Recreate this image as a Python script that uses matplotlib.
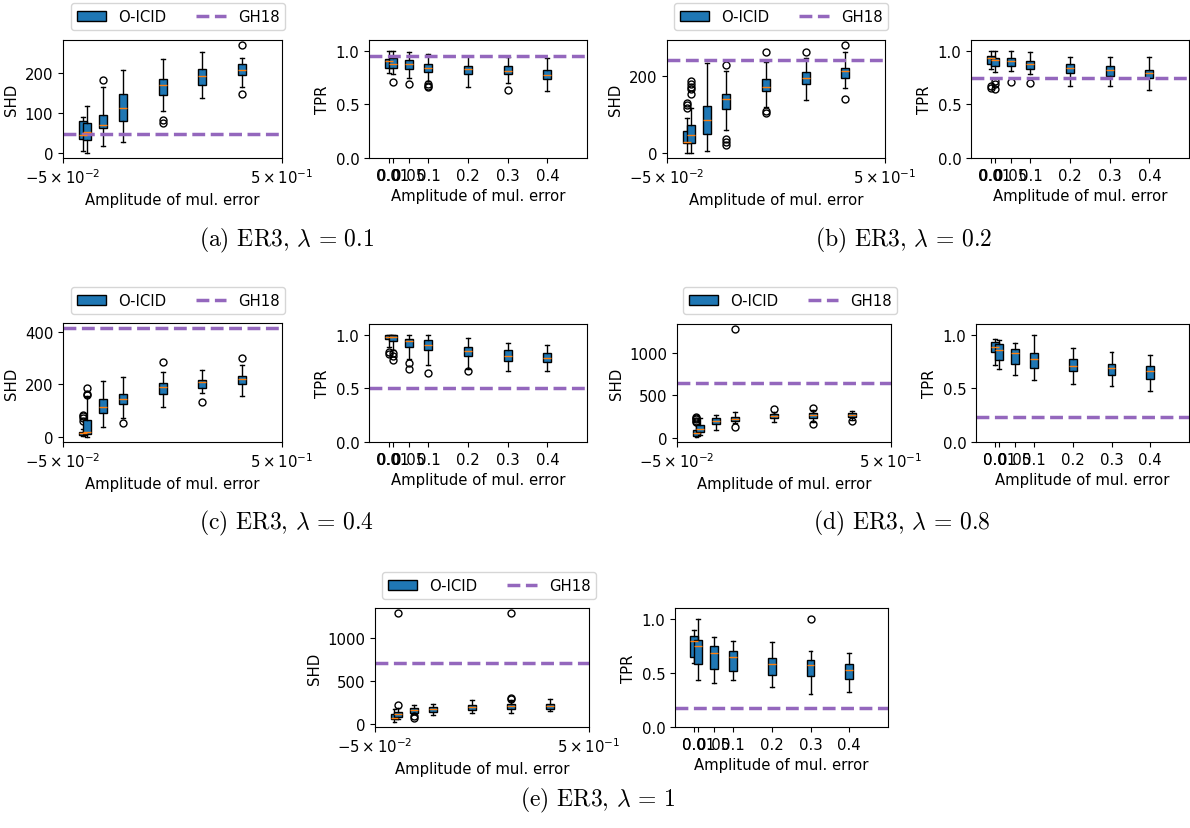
import numpy as np
import matplotlib
matplotlib.use("Agg")
import matplotlib.pyplot as plt
from matplotlib.lines import Line2D

# amplitude of the multiplicative error (box positions), labels as str(pos)
positions = [0.0, 0.01, 0.05, 0.1, 0.2, 0.3, 0.4]
tick_labels = [str(p) for p in positions]

# each row: whisker low, q1, median, q3, whisker high
shd_a = [[4, 35, 43, 79, 90], [0, 32, 52, 75, 117], [17, 62, 70, 95, 164],
         [27, 78, 112, 146, 207], [103, 144, 168, 185, 233],
         [136, 168, 191, 210, 252], [165, 193, 207, 221, 237]]
shd_a_fliers = [[], [], [182], [], [82, 75], [], [268, 147]]
tpr_a = [[0.79, 0.835, 0.90, 0.92, 1.0], [0.78, 0.835, 0.88, 0.93, 1.0],
         [0.75, 0.83, 0.873, 0.915, 0.99], [0.72, 0.80, 0.84, 0.875, 0.97],
         [0.66, 0.78, 0.83, 0.855, 0.955], [0.695, 0.78, 0.807, 0.855, 0.94],
         [0.627, 0.736, 0.776, 0.82, 0.93]]
tpr_a_fliers = [[], [0.705], [0.69], [0.69, 0.675, 0.66], [], [0.635], []]
gh18_a = [47, 0.953]

shd_b = [[0, 24, 28, 57, 91], [0, 24, 45, 72, 117], [4, 48, 85, 123, 235],
         [58, 113, 139, 154, 213], [120, 161, 172, 191, 237],
         [137, 178, 194, 210, 248], [168, 194, 213, 222, 263]]
shd_b_fliers = [[129, 124, 117], [187, 180, 172, 165, 154], [],
                [230, 35, 28, 21], [263, 109, 104], [263], [280, 141]]
tpr_b = [[0.83, 0.876, 0.93, 0.947, 1.0], [0.80, 0.86, 0.916, 0.93, 1.0],
         [0.81, 0.86, 0.90, 0.935, 1.0], [0.78, 0.83, 0.876, 0.907, 0.985],
         [0.674, 0.79, 0.835, 0.88, 0.944], [0.668, 0.767, 0.823, 0.854, 0.944],
         [0.634, 0.745, 0.79, 0.823, 0.944]]
tpr_b_fliers = [[0.668, 0.65], [0.72, 0.69, 0.643], [0.705], [0.695], [], [], []]
gh18_b = [243, 0.748]

shd_c = [[3, 6, 13, 17, 30], [0, 9, 19, 64, 154], [35, 90, 115, 145, 214],
         [73, 126, 144, 164, 228], [114, 164, 190, 205, 247],
         [167, 186, 208, 218, 256], [156, 201, 220, 233, 273]]
shd_c_fliers = [[83, 78, 72, 60], [186, 163, 158], [], [51], [286], [132], [299]]
tpr_c = [[0.89, 0.957, 0.98, 0.994, 1.0], [0.86, 0.94, 0.978, 0.994, 1.0],
         [0.776, 0.885, 0.938, 0.963, 1.0], [0.72, 0.854, 0.90, 0.947, 0.994],
         [0.683, 0.80, 0.848, 0.885, 0.97], [0.658, 0.758, 0.80, 0.86, 0.922],
         [0.658, 0.745, 0.786, 0.83, 0.907]]
tpr_c_fliers = [[0.84, 0.82], [0.83, 0.80, 0.767], [0.74, 0.683], [0.643],
                [0.665], [], []]
gh18_c = [414, 0.503]

shd_d = [[12, 23, 50, 90, 150], [31, 62, 100, 148, 226], [90, 156, 195, 226, 265],
         [168, 199, 222, 246, 305], [180, 226, 254, 277, 305],
         [187, 234, 262, 285, 320], [207, 238, 262, 285, 316]]
shd_d_fliers = [[246, 230, 215, 200, 180], [], [], [1273, 129], [332],
                [344, 160], [195]]
tpr_d = [[0.714, 0.84, 0.885, 0.93, 0.957], [0.677, 0.767, 0.854, 0.91, 0.947],
         [0.627, 0.73, 0.83, 0.863, 0.922], [0.575, 0.69, 0.776, 0.832, 1.0],
         [0.543, 0.658, 0.705, 0.77, 0.879], [0.52, 0.62, 0.69, 0.73, 0.838],
         [0.472, 0.59, 0.658, 0.705, 0.807]]
tpr_d_fliers = [[], [], [], [], [], [], []]
gh18_d = [637, 0.23]

shd_e = [[23, 50, 69, 108, 165], [50, 81, 108, 138, 185], [108, 127, 154, 177, 215],
         [100, 138, 173, 196, 231], [119, 154, 192, 215, 269],
         [127, 173, 208, 231, 270], [146, 165, 208, 231, 288]]
shd_e_fliers = [[], [215, 1280], [85, 70], [], [], [300, 280, 1280], []]
tpr_e = [[0.59, 0.648, 0.797, 0.84, 0.897], [0.43, 0.586, 0.748, 0.804, 1.0],
         [0.405, 0.54, 0.685, 0.748, 0.835], [0.43, 0.514, 0.648, 0.704, 0.797],
         [0.374, 0.477, 0.58, 0.638, 0.788], [0.305, 0.47, 0.57, 0.617, 0.704],
         [0.32, 0.445, 0.53, 0.586, 0.685]]
tpr_e_fliers = [[], [], [], [], [], [1.0], []]
gh18_e = [704, 0.18]

W, H = 1190, 829
FS = 10.7


def px_axes(fig, x0, y0, x1, y1):
    # axes from pixel box (top-left origin)
    return fig.add_axes([x0 / W, 1 - y1 / H, (x1 - x0) / W, (y1 - y0) / H])


def make_stats(rows, fliers):
    return [dict(whislo=r[0], q1=r[1], med=r[2], q3=r[3], whishi=r[4],
                 fliers=np.array(f)) for r, f in zip(rows, fliers)]


def draw_panel(ax, rows, fliers, gh, ylabel):
    bp = ax.bxp(make_stats(rows, fliers), positions=positions, widths=0.02,
                patch_artist=True, manage_ticks=False,
                boxprops=dict(facecolor='tab:blue'),
                medianprops=dict(color='tab:orange'),
                flierprops=dict(marker='o', markersize=5,
                                markerfacecolor='none', markeredgecolor='k'))
    ax.axhline(gh, color='tab:purple', ls='--', lw=2.5)
    ax.set_xlim(-0.05, 0.5)
    ax.set_ylabel(ylabel, fontsize=FS)
    ax.set_xlabel('Amplitude of mul. error', fontsize=FS)
    ax.tick_params(labelsize=FS)
    return bp


panels = [
    (shd_a, shd_a_fliers, tpr_a, tpr_a_fliers, gh18_a, 'a', '0.1'),
    (shd_b, shd_b_fliers, tpr_b, tpr_b_fliers, gh18_b, 'b', '0.2'),
    (shd_c, shd_c_fliers, tpr_c, tpr_c_fliers, gh18_c, 'c', '0.4'),
    (shd_d, shd_d_fliers, tpr_d, tpr_d_fliers, gh18_d, 'd', '0.8'),
    (shd_e, shd_e_fliers, tpr_e, tpr_e_fliers, gh18_e, 'e', '1'),
]

# pixel boxes: shd axes, tpr axes, legend (center x, bottom y), caption (x, y)
shd_boxes = [(63, 41, 282, 159), (667, 41, 885, 159), (63, 324, 282, 443),
             (677, 325, 891, 443), (375, 609, 589, 728)]
tpr_boxes = [(369, 41, 587, 159), (971, 41, 1189, 159), (369, 325, 587, 443),
             (976, 325, 1189, 443), (675, 609, 888, 728)]
leg_pos = [(178, 31), (781, 31), (178, 315), (790, 315), (489, 600)]
cap_pos = [(287, 240), (904, 240), (287, 523), (902, 523), (598, 800)]

fig = plt.figure(figsize=(W / 100, H / 100), dpi=100)

for i, (s, sf, t, tf, gh, letter, lam) in enumerate(panels):
    ax1 = px_axes(fig, *shd_boxes[i])
    bp = draw_panel(ax1, s, sf, gh[0], 'SHD')
    ax1.set_xticks([-0.05, 0.5])
    ax1.set_xticklabels([r'$\mathdefault{-5\times10^{-2}}$',
                         r'$\mathdefault{5\times10^{-1}}$'])

    ax2 = px_axes(fig, *tpr_boxes[i])
    draw_panel(ax2, t, tf, gh[1], 'TPR')
    ax2.set_ylim(0, 1.1)
    ax2.set_yticks([0.0, 0.5, 1.0])
    ax2.set_xticks(positions)
    ax2.set_xticklabels(tick_labels)

    gh_handle = Line2D([], [], color='tab:purple', ls='--', lw=2.5)
    cx, by = leg_pos[i]
    fig.legend([bp['boxes'][0], gh_handle], ['O-ICID', 'GH18'], ncol=2,
               loc='lower center', bbox_to_anchor=(cx / W, 1 - by / H),
               borderaxespad=0, fontsize=FS)

    tx, ty = cap_pos[i]
    fig.text(tx / W, 1 - ty / H, '(%s) ER3, $\\lambda\\,=\\,%s$' % (letter, lam),
             ha='center', va='center', fontsize=17, family='cmr10',
             math_fontfamily='cm')

fig.savefig('out.png', dpi=100)
